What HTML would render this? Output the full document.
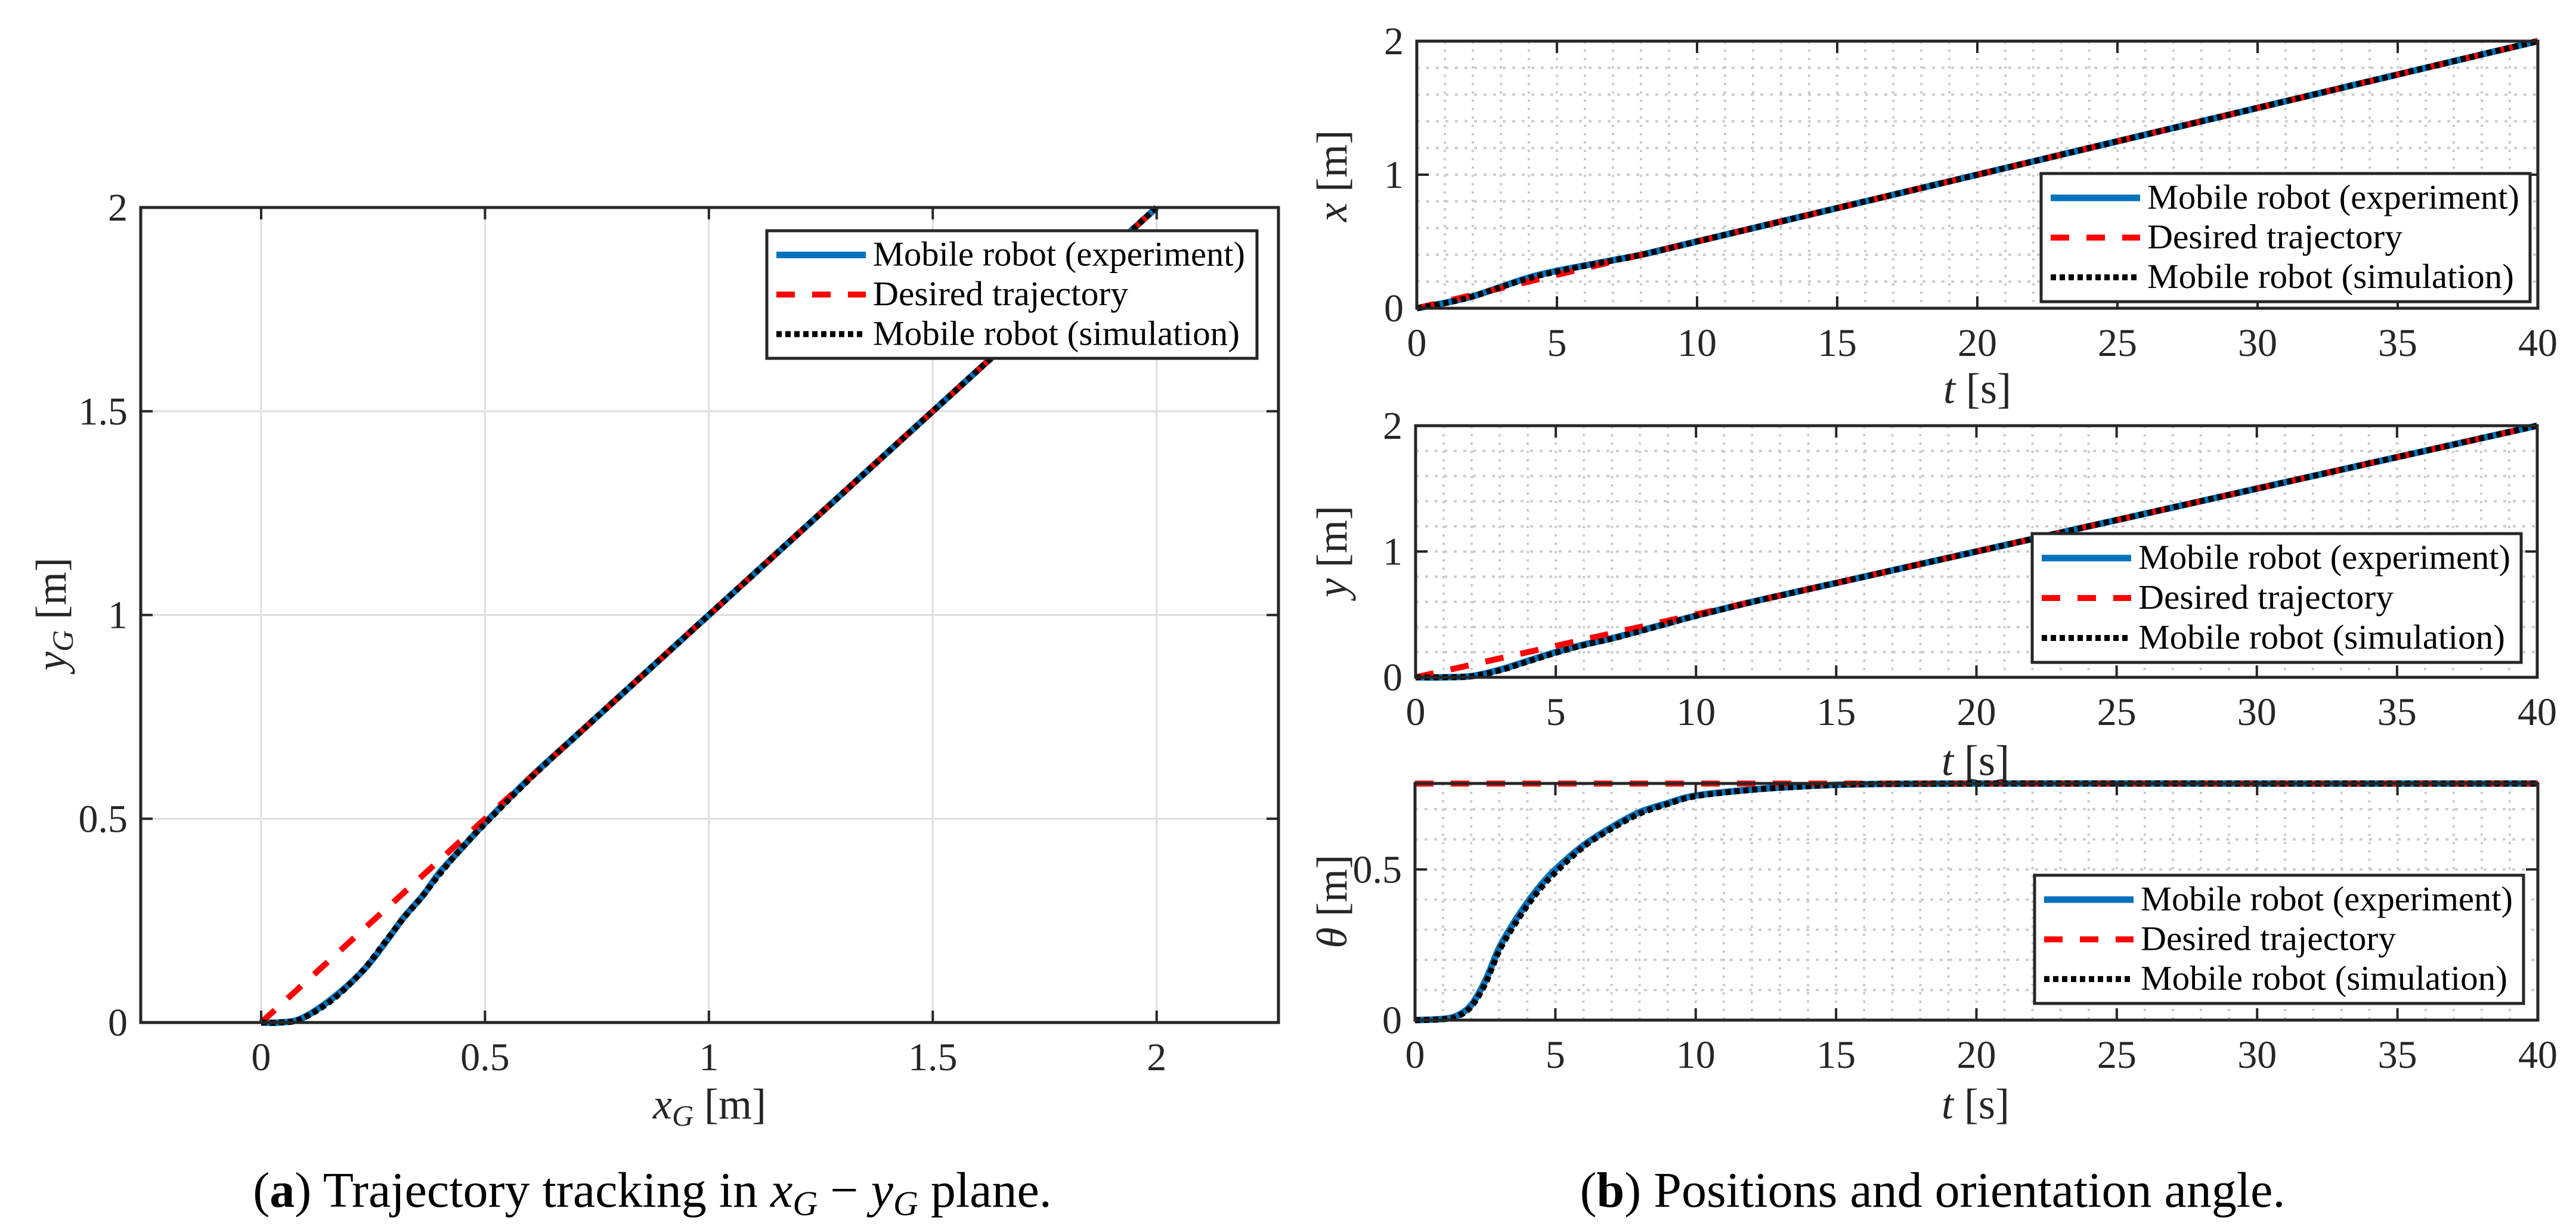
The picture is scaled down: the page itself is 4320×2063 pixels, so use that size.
<!DOCTYPE html>
<html><head><meta charset="utf-8"><style>
html,body{margin:0;padding:0;background:#fff;}
svg{display:block;font-family:"Liberation Serif",serif;}
</style></head><body>
<svg id="fig" width="4320" height="2063" viewBox="0 0 4320 2063" xmlns="http://www.w3.org/2000/svg"></svg>
<script>
// ---- data ----
const tVals = [0,1,2,3,4,5,6,7,8,9,10,12,14,16,20,25,30,35,40];
const xExp  = [0,0.04,0.09,0.16,0.23,0.28,0.32,0.36,0.40,0.45,0.50,0.60,0.70,0.80,1.0,1.25,1.5,1.75,2.0];
const xSim  = [0,0.038,0.088,0.158,0.225,0.275,0.318,0.358,0.40,0.448,0.50,0.60,0.70,0.80,1.0,1.25,1.5,1.75,2.0];
const xDes  = [0,0.05,0.10,0.15,0.20,0.25,0.30,0.35,0.40,0.45,0.50,0.60,0.70,0.80,1.0,1.25,1.5,1.75,2.0];
const yExp  = [0,0,0.01,0.06,0.13,0.20,0.26,0.31,0.37,0.43,0.49,0.60,0.70,0.80,1.0,1.25,1.5,1.75,2.0];
const ySim  = [0,0,0.008,0.055,0.125,0.195,0.256,0.307,0.366,0.428,0.488,0.598,0.70,0.80,1.0,1.25,1.5,1.75,2.0];
const yDes  = [0,0.05,0.10,0.15,0.20,0.25,0.30,0.35,0.40,0.45,0.50,0.60,0.70,0.80,1.0,1.25,1.5,1.75,2.0];
const thT   = [0,1,1.5,2,2.5,3,3.5,4,4.5,5,6,7,8,9,10,12,14,16,20,30,40];
const thExp = [0,0.004,0.015,0.05,0.13,0.24,0.32,0.39,0.45,0.50,0.58,0.64,0.69,0.72,0.745,0.765,0.777,0.783,0.785,0.785,0.785];
const thSim = [0,0.003,0.012,0.045,0.12,0.23,0.31,0.38,0.44,0.49,0.575,0.635,0.685,0.717,0.743,0.764,0.776,0.783,0.785,0.785,0.785];
const thDes = [0.785,0.785];
const thDesT = [0,40];
const tTicks = [0,5,10,15,20,25,30,35,40];
const xyTicksX = [0,0.5,1,1.5,2];
const xyTicksY = [0,0.5,1,1.5,2];
const posTicks = [0,1,2];
const thTicks = [0,0.5];
const legendLabels = ["Mobile robot (experiment)","Desired trajectory","Mobile robot (simulation)"];

const NS="http://www.w3.org/2000/svg";
const svg=document.getElementById('fig');
function el(tag,attrs,parent){const e=document.createElementNS(NS,tag);for(const k in attrs)e.setAttribute(k,attrs[k]);(parent||svg).appendChild(e);return e;}
const STY=[
 {stroke:"#0072BD","stroke-width":11,fill:"none"},
 {stroke:"#FF0000","stroke-width":10,fill:"none","stroke-dasharray":"31 29"},
 {stroke:"#000000","stroke-width":10,fill:"none","stroke-dasharray":"9 6"}
];
function smoothPath(pts){
 let d="M"+pts[0][0].toFixed(1)+","+pts[0][1].toFixed(1);
 for(let i=0;i<pts.length-1;i++){
  const p0=pts[Math.max(0,i-1)],p1=pts[i],p2=pts[i+1],p3=pts[Math.min(pts.length-1,i+2)];
  const c1=[p1[0]+(p2[0]-p0[0])/6,p1[1]+(p2[1]-p0[1])/6];
  const c2=[p2[0]-(p3[0]-p1[0])/6,p2[1]-(p3[1]-p1[1])/6];
  d+=" C"+c1[0].toFixed(1)+","+c1[1].toFixed(1)+" "+c2[0].toFixed(1)+","+c2[1].toFixed(1)+" "+p2[0].toFixed(1)+","+p2[1].toFixed(1);
 }
 return d;
}
function makeAxes(o){
 const sx=v=>o.L+(v-o.x0)/(o.x1-o.x0)*(o.R-o.L);
 const sy=v=>o.B-(v-o.y0)/(o.y1-o.y0)*(o.B-o.T);
 const g=el('g',{});
 
 
 const gg=el('g',{},g);
 
 
 if(o.minor){
  for(let v=o.x0+o.minorX;v<o.x1-1e-9;v+=o.minorX){el('line',{x1:sx(v),x2:sx(v),y1:o.T,y2:o.B,stroke:"#cccccc","stroke-width":4,"stroke-dasharray":"4 10"},gg);}
  for(let v=o.y0+o.minorY;v<o.y1-1e-9;v+=o.minorY){el('line',{x1:o.L,x2:o.R,y1:sy(v),y2:sy(v),stroke:"#cccccc","stroke-width":4,"stroke-dasharray":"5 11"},gg);}
 } else {
  o.xt.forEach(v=>el('line',{x1:sx(v),x2:sx(v),y1:o.T,y2:o.B,stroke:"#dedede","stroke-width":3},gg));
  o.yt.forEach(v=>el('line',{x1:o.L,x2:o.R,y1:sy(v),y2:sy(v),stroke:"#dedede","stroke-width":3},gg));
 }
 const clipId=o.name+'-clip';
 const cp=el('clipPath',{id:clipId},g);el('rect',{x:o.L-8,y:o.T-8,width:o.R-o.L+16,height:o.B-o.T+16},cp);
 o.series.forEach((s,i)=>{
  const pts=s.xs.map((x,j)=>[sx(x),sy(s.ys[j])]);
  const p=el('path',Object.assign({d:smoothPath(pts),"clip-path":"url(#"+clipId+")","stroke-linecap":"butt"},STY[i]),g);
  
  
 });
 const bx=el('rect',{x:o.L,y:o.T,width:o.R-o.L,height:o.B-o.T,fill:"none",stroke:"#262626","stroke-width":5},g);
 
 
 o.xt.forEach(v=>{
  el('line',{x1:sx(v),x2:sx(v),y1:o.B,y2:o.B-20,stroke:"#262626","stroke-width":4},g);
  el('line',{x1:sx(v),x2:sx(v),y1:o.T,y2:o.T+20,stroke:"#262626","stroke-width":4},g);
  const t=el('text',{x:sx(v),y:o.B+80,"text-anchor":"middle","font-size":66,fill:"#262626"},g);t.textContent=String(v);
  
  
 });
 o.yt.forEach(v=>{
  el('line',{x1:o.L,x2:o.L+20,y1:sy(v),y2:sy(v),stroke:"#262626","stroke-width":4},g);
  el('line',{x1:o.R,x2:o.R-20,y1:sy(v),y2:sy(v),stroke:"#262626","stroke-width":4},g);
  const t=el('text',{x:o.L-22,y:sy(v)+22,"text-anchor":"end","font-size":66,fill:"#262626"},g);t.textContent=String(v);
  
  
 });
 const lg=el('g',{},g);
 
 
 const Lg=o.leg;
 el('rect',{x:Lg.x,y:Lg.y,width:Lg.w,height:Lg.h,fill:"#fff",stroke:"#262626","stroke-width":5},lg);
 legendLabels.forEach((lab,i)=>{
  const cy=Lg.y+Lg.h*(0.19+i*0.31);
  el('line',Object.assign({x1:Lg.x+16,x2:Lg.x+166,y1:cy,y2:cy},STY[i]),lg);
  const t=el('text',{x:Lg.x+178,y:cy+18,"font-size":58,fill:"#000",textLength:[624,428,615][i],lengthAdjust:"spacingAndGlyphs"},lg);
  t.textContent=lab;
  
  
 });
 return {sx,sy};
}
makeAxes({name:"xy-plane-plot",L:236,R:2144,T:348,B:1715,x0:-0.2689,x1:2.272,y0:0,y1:2,xt:xyTicksX,yt:xyTicksY,minor:false,
 series:[{name:"experiment-line",xs:xExp,ys:yExp},{name:"desired-line",xs:xDes,ys:yDes},{name:"simulation-line",xs:xSim,ys:ySim}],
 leg:{x:1286,y:387,w:822,h:214}});
makeAxes({name:"x-time-plot",L:2376,R:4256,T:69,B:517,x0:0,x1:40,y0:0,y1:2,xt:tTicks,yt:posTicks,minor:true,minorX:1,minorY:0.2,
 series:[{name:"experiment-line",xs:tVals,ys:xExp},{name:"desired-line",xs:tVals,ys:xDes},{name:"simulation-line",xs:tVals,ys:xSim}],
 leg:{x:3423,y:291,w:820,h:215}});
makeAxes({name:"y-time-plot",L:2374,R:4255,T:714,B:1136,x0:0,x1:40,y0:0,y1:2,xt:tTicks,yt:posTicks,minor:true,minorX:1,minorY:0.2,
 series:[{name:"experiment-line",xs:tVals,ys:yExp},{name:"desired-line",xs:tVals,ys:yDes},{name:"simulation-line",xs:tVals,ys:ySim}],
 leg:{x:3408,y:895,w:820,h:216}});
makeAxes({name:"theta-time-plot",L:2373,R:4256,T:1314,B:1711,x0:0,x1:40,y0:0,y1:Math.PI/4,xt:tTicks,yt:thTicks,minor:true,minorX:1,minorY:0.1,
 series:[{name:"experiment-line",xs:thT,ys:thExp},{name:"desired-line",xs:thDesT,ys:thDes},{name:"simulation-line",xs:thT,ys:thSim}],
 leg:{x:3412,y:1468,w:820,h:215}});
</script>
<svg style="position:absolute;left:0;top:0" width="4320" height="2063" font-family="Liberation Serif, serif" fill="#262626">
 <text x="1190" y="1876" font-size="72" text-anchor="middle"><tspan font-style="italic">x</tspan><tspan font-style="italic" font-size="50" dy="12">G</tspan><tspan dy="-12"> [m]</tspan></text>
 <text transform="translate(110,1030) rotate(-90)" font-size="72" text-anchor="middle"><tspan font-style="italic">y</tspan><tspan font-style="italic" font-size="50" dy="12">G</tspan><tspan dy="-12"> [m]</tspan></text>
 <text x="3316" y="676" font-size="72" text-anchor="middle"><tspan font-style="italic">t</tspan> [s]</text>
 <text x="3313" y="1300" font-size="72" text-anchor="middle"><tspan font-style="italic">t</tspan> [s]</text>
 <text x="3313" y="1876" font-size="72" text-anchor="middle"><tspan font-style="italic">t</tspan> [s]</text>
 <text transform="translate(2258,295) rotate(-90)" font-size="72" text-anchor="middle"><tspan font-style="italic">x</tspan> [m]</text>
 <text transform="translate(2258,925) rotate(-90)" font-size="72" text-anchor="middle"><tspan font-style="italic">y</tspan> [m]</text>
 <text transform="translate(2258,1512) rotate(-90)" font-size="72" text-anchor="middle"><tspan font-style="italic">θ</tspan> [m]</text>
 <text x="1094" y="2024" font-size="84" text-anchor="middle" fill="#000">(<tspan font-weight="bold">a</tspan>) Trajectory tracking in <tspan font-style="italic">x</tspan><tspan font-style="italic" font-size="58" dy="14">G</tspan><tspan dy="-14"> − </tspan><tspan font-style="italic">y</tspan><tspan font-style="italic" font-size="58" dy="14">G</tspan><tspan dy="-14"> plane.</tspan></text>
 <text x="3241" y="2024" font-size="84" text-anchor="middle" fill="#000">(<tspan font-weight="bold">b</tspan>) Positions and orientation angle.</text>
</svg>
</body></html>
